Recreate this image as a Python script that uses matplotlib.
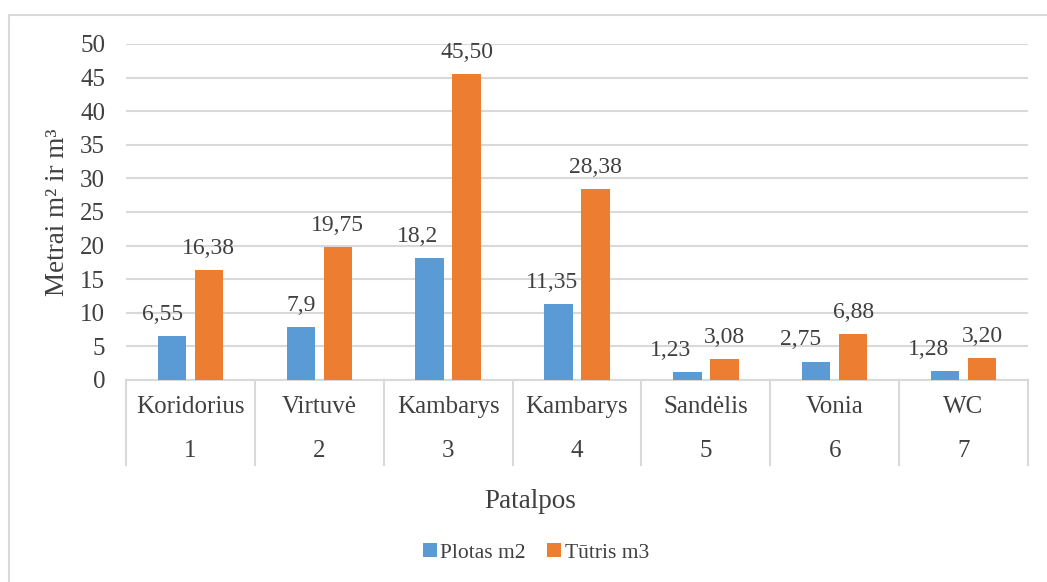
import matplotlib

matplotlib.use("Agg")
import matplotlib.pyplot as plt
import numpy as np
from matplotlib.patches import Patch, Rectangle

# duomenys
rooms = ["Koridorius", "Virtuvė", "Kambarys", "Kambarys", "Sandėlis", "Vonia", "WC"]
room_numbers = ["1", "2", "3", "4", "5", "6", "7"]
area_m2 = [6.55, 7.9, 18.2, 11.35, 1.23, 2.75, 1.28]
volume_m3 = [16.38, 19.75, 45.50, 28.38, 3.08, 6.88, 3.20]
y_ticks = [0, 5, 10, 15, 20, 25, 30, 35, 40, 45, 50]

BLUE = "#5B9BD5"
ORANGE = "#ED7D31"
TEXT = "#404040"
GRID = "#D9D9D9"

plt.rcParams["font.family"] = ["Liberation Serif", "DejaVu Serif"]

W, H = 1047, 582
fig = plt.figure(figsize=(W / 100, H / 100), dpi=100)
ax = fig.add_axes([126 / W, 1 - 380 / H, (1028 - 126) / W, (380 - 44) / H])

x = np.arange(len(rooms)) + 0.5
bar_w = 0.22
shift = 0.1435
ax.bar(x - shift, area_m2, width=bar_w, color=BLUE, zorder=3)
ax.bar(x + shift, volume_m3, width=bar_w, color=ORANGE, zorder=3)

# Excel pastumia mėlynas etiketes kairiau, kad nesusidurtų (taškais)
blue_nudge = [-6.5, 0, -8.5, -4.5, -12, -11, -12]
for i in range(len(rooms)):
    ax.annotate(f"{area_m2[i]:g}".replace(".", ","), (x[i] - shift, area_m2[i]),
                xytext=(blue_nudge[i], 8), textcoords="offset points",
                ha="center", va="bottom", fontsize=17, color=TEXT)
    ax.annotate(f"{volume_m3[i]:.2f}".replace(".", ","), (x[i] + shift, volume_m3[i]),
                xytext=(0, 8), textcoords="offset points",
                ha="center", va="bottom", fontsize=17, color=TEXT)

ax.set_xlim(0, len(rooms))
ax.set_ylim(0, 50)
ax.set_yticks(y_ticks)
ax.set_yticklabels([str(t) for t in y_ticks], fontsize=18, color=TEXT)
ax.tick_params(axis="y", length=0, pad=15)
ax.set_xticks([])
ax.grid(axis="y", color=GRID, linewidth=1.5, zorder=0)
ax.set_axisbelow(True)
for side in ["top", "right", "left"]:
    ax.spines[side].set_visible(False)
ax.spines["bottom"].set_color(GRID)
ax.spines["bottom"].set_linewidth(1.5)

# dviejų lygių kategorijų ašis
trans = ax.get_xaxis_transform()
table_bottom = -(465 - 380) / (380 - 44)
for b in range(len(rooms) + 1):
    ax.plot([b, b], [0, table_bottom], transform=trans, color=GRID,
            linewidth=1.5, clip_on=False)
for i in range(len(rooms)):
    ax.text(x[i], -(407 - 380) / (380 - 44), rooms[i], transform=trans,
            ha="center", va="center", fontsize=18, color=TEXT)
    ax.text(x[i], -(451 - 380) / (380 - 44), room_numbers[i], transform=trans,
            ha="center", va="center", fontsize=18, color=TEXT)

fig.text(58 / W, 1 - 212 / H, "Metrai m² ir m³", rotation=90,
         ha="center", va="center", fontsize=19.5, color=TEXT)
fig.text(530 / W, 1 - 502 / H, "Patalpos", ha="center", va="center",
         fontsize=19.5, color=TEXT)

handles = [Patch(facecolor=BLUE, label="Plotas m2"),
           Patch(facecolor=ORANGE, label="Tūtris m3")]
leg = fig.legend(handles=handles, loc="center", bbox_to_anchor=(536 / W, 1 - 553 / H),
                 ncol=2, frameon=False, fontsize=15.5, handlelength=0.65,
                 handleheight=0.65, handletextpad=0.15, columnspacing=1.0)
for t in leg.get_texts():
    t.set_color(TEXT)

# rėmelis aplink diagramą
fig.add_artist(Rectangle((8.5 / W, -0.1), 1.2, 1 - 14.5 / H + 0.1,
                         transform=fig.transFigure, fill=False,
                         edgecolor=GRID, linewidth=1.5))

fig.savefig("out.png", dpi=100)
